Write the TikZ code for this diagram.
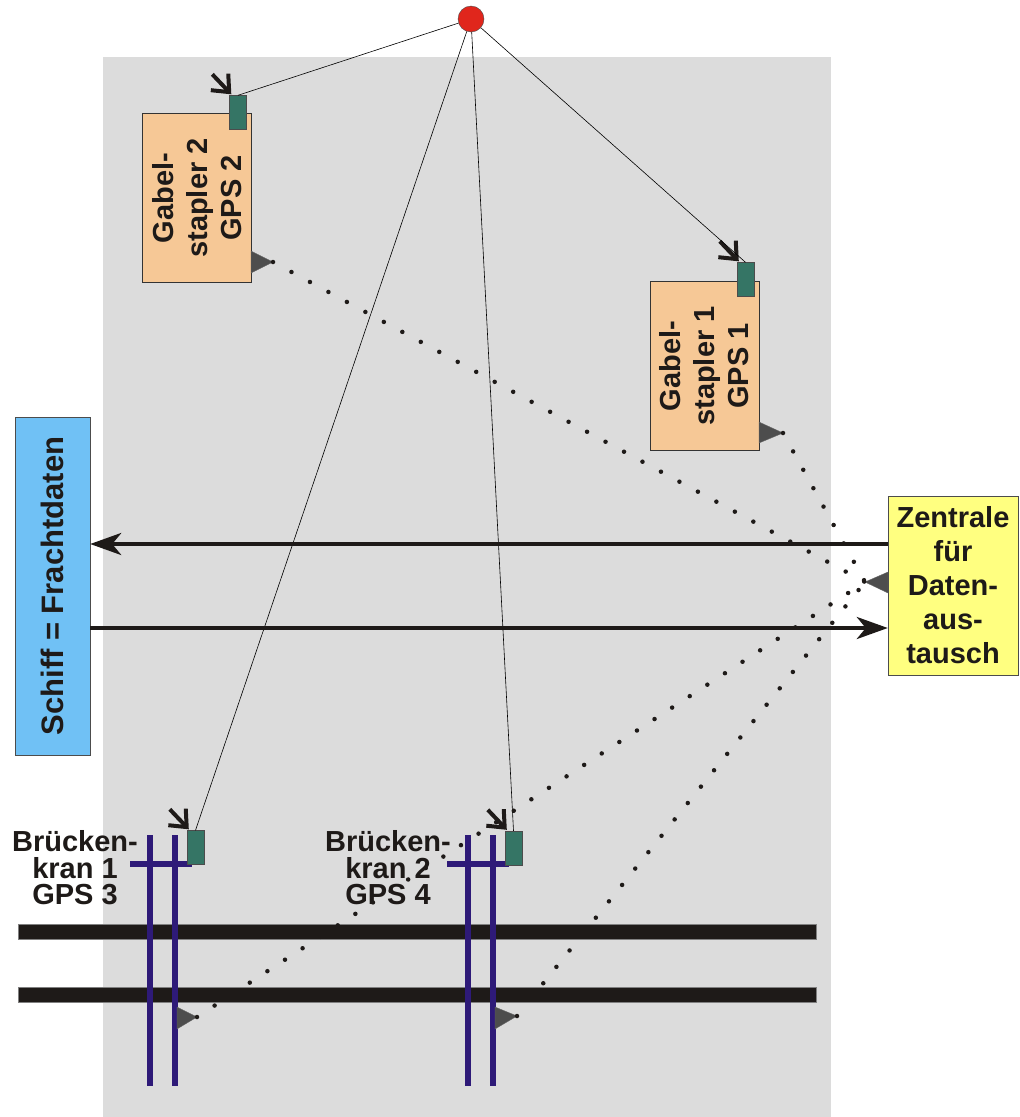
\documentclass[tikz,border=0pt]{standalone}
\usepackage{fontspec}
\setmainfont{Liberation Sans}
\usetikzlibrary{arrows.meta, positioning}
\definecolor{yardgray}{RGB}{220, 220, 220}
\definecolor{satred}{RGB}{224, 38, 28}
\definecolor{peach}{RGB}{246, 200, 150}
\definecolor{antgreen}{RGB}{53, 117, 101}
\definecolor{flaggray}{RGB}{77, 77, 77}
\definecolor{shipblue}{RGB}{112, 193, 245}
\definecolor{centeryellow}{RGB}{255, 255, 128}
\definecolor{cranepurple}{RGB}{46, 26, 120}
\definecolor{railblack}{RGB}{30, 26, 24}

\tikzset{
  gpsant/.style={draw=black!70, fill=antgreen, minimum width=17pt, minimum height=34pt, inner sep=0pt},
  staplerbox/.style={draw=black!80, fill=peach, minimum width=109pt, minimum height=169pt, inner sep=0pt},
  bigtext/.style={font=\bfseries\fontsize{29}{34}\selectfont, align=center, text=railblack},
  cranetext/.style={font=\bfseries\fontsize{29}{26.5}\selectfont, align=center, text=railblack},
  signal/.style={black, line width=0.6pt},
  gpsarrow/.style={-{Straight Barb[length=14pt, width=24pt, line width=4pt]}, line width=4pt, railblack},
  dataflow/.style={-{Stealth[length=31pt, width=22pt, inset=9pt]}, line width=4pt, railblack},
  dotline/.style={railblack, line width=4.5pt, line cap=round, dash pattern=on 0pt off 21pt},
  flag/.style={fill=flaggray, draw=black!60, line width=0.4pt},
  cranebeam/.style={cranepurple, line width=6pt},
  rail/.style={fill=railblack, draw=black!50, line width=0.5pt}
}

\begin{document}
\begin{tikzpicture}[x=1pt, y=-1pt]
    \useasboundingbox (0, 0) rectangle (1020, 1117);
    % yard area
    \fill[yardgray] (103, 57) rectangle (831, 1117);

    % rails
    \draw[rail] (18, 924) rectangle (816, 939);
    \draw[rail] (18, 987) rectangle (816, 1002);

    % cranes
    \foreach \xa/\xb/\xl/\xr in {150/175/130/192, 468/493/447/509} {
        \draw[cranebeam] (\xa, 835) -- (\xa, 1086);
        \draw[cranebeam] (\xb, 835) -- (\xb, 1086);
        \draw[cranebeam] (\xl, 864) -- (\xr, 864);
    }
    \node[cranetext] (kran1label) at (75, 868) {Brücken-\\kran 1\\GPS 3};
    \node[cranetext] (kran2label) at (388, 868) {Brücken-\\kran 2\\GPS 4};

    % satellite
    \node[circle, draw=black!70, fill=satred, minimum size=26pt, inner sep=0pt] (sat) at (471, 19) {};

    % forklifts
    \node[staplerbox] (stapler2) at (197, 198) {};
    \node[bigtext, rotate=90] (stapler2txt) at (stapler2.center) {Gabel-\\stapler 2\\GPS 2};
    \node[staplerbox] (stapler1) at (704.5, 366) {};
    \node[bigtext, rotate=90] (stapler1txt) at (stapler1.center) {Gabel-\\stapler 1\\GPS 1};

    % gps antennas
    \node[gpsant] (ant2) at (238, 112.5) {};
    \node[gpsant] (ant1) at (745.5, 279.5) {};
    \node[gpsant] (ant3) at (195.5, 847.5) {};
    \node[gpsant] (ant4) at (513.5, 848) {};
    \foreach \ant in {ant1, ant2, ant3, ant4}
        \draw[gpsarrow] ([shift={(-17, -21)}]\ant.north west) -- ([shift={(2, -1)}]\ant.north west);

    % ship and data center
    \node[draw=black!70, fill=shipblue, minimum width=75pt, minimum height=338pt, inner sep=0pt] (ship) at (52.5, 586) {};
    \node[bigtext, rotate=90, font=\bfseries\fontsize{31}{34}\selectfont] (shiptxt) at (ship.center) {Schiff = Frachtdaten};
    \node[bigtext, draw=black!70, fill=centeryellow, minimum width=130pt, minimum height=179pt, inner sep=0pt] (zentrale) at (953, 585.5) {Zentrale\\für\\Daten-\\aus-\\tausch};

    % transmitters
    \draw[flag] (251, 251) -- (251, 273) -- (273, 262) -- cycle;
    \coordinate (tip2) at (273, 262);
    \draw[flag] (759, 422) -- (759, 443) -- (783, 433) -- cycle;
    \coordinate (tip1) at (783, 433);
    \draw[flag] (177, 1007) -- (177, 1029) -- (197, 1017) -- cycle;
    \coordinate (tip3) at (197, 1017);
    \draw[flag] (495, 1007) -- (495, 1029) -- (517, 1016) -- cycle;
    \coordinate (tip4) at (517, 1016);
    \draw[flag] (888, 572) -- (888, 593) -- (865, 582) -- cycle;
    \coordinate (tipZ) at (865, 582);

    % satellite signals
    \foreach \ant in {ant1, ant2, ant3, ant4}
        \draw[signal] (sat) -- (\ant.north);

    % radio links
    \foreach \tip in {tip1, tip2, tip3, tip4}
        \draw[dotline] (\tip) -- (tipZ);

    % data exchange
    \draw[dataflow] ([yshift=41.5pt]zentrale.west) -- ([yshift=41.5pt]zentrale.west -| ship.east);
    \draw[dataflow] ([yshift=-42pt]ship.east) -- ([yshift=-42pt]ship.east -| zentrale.west);
\end{tikzpicture}
\end{document}
